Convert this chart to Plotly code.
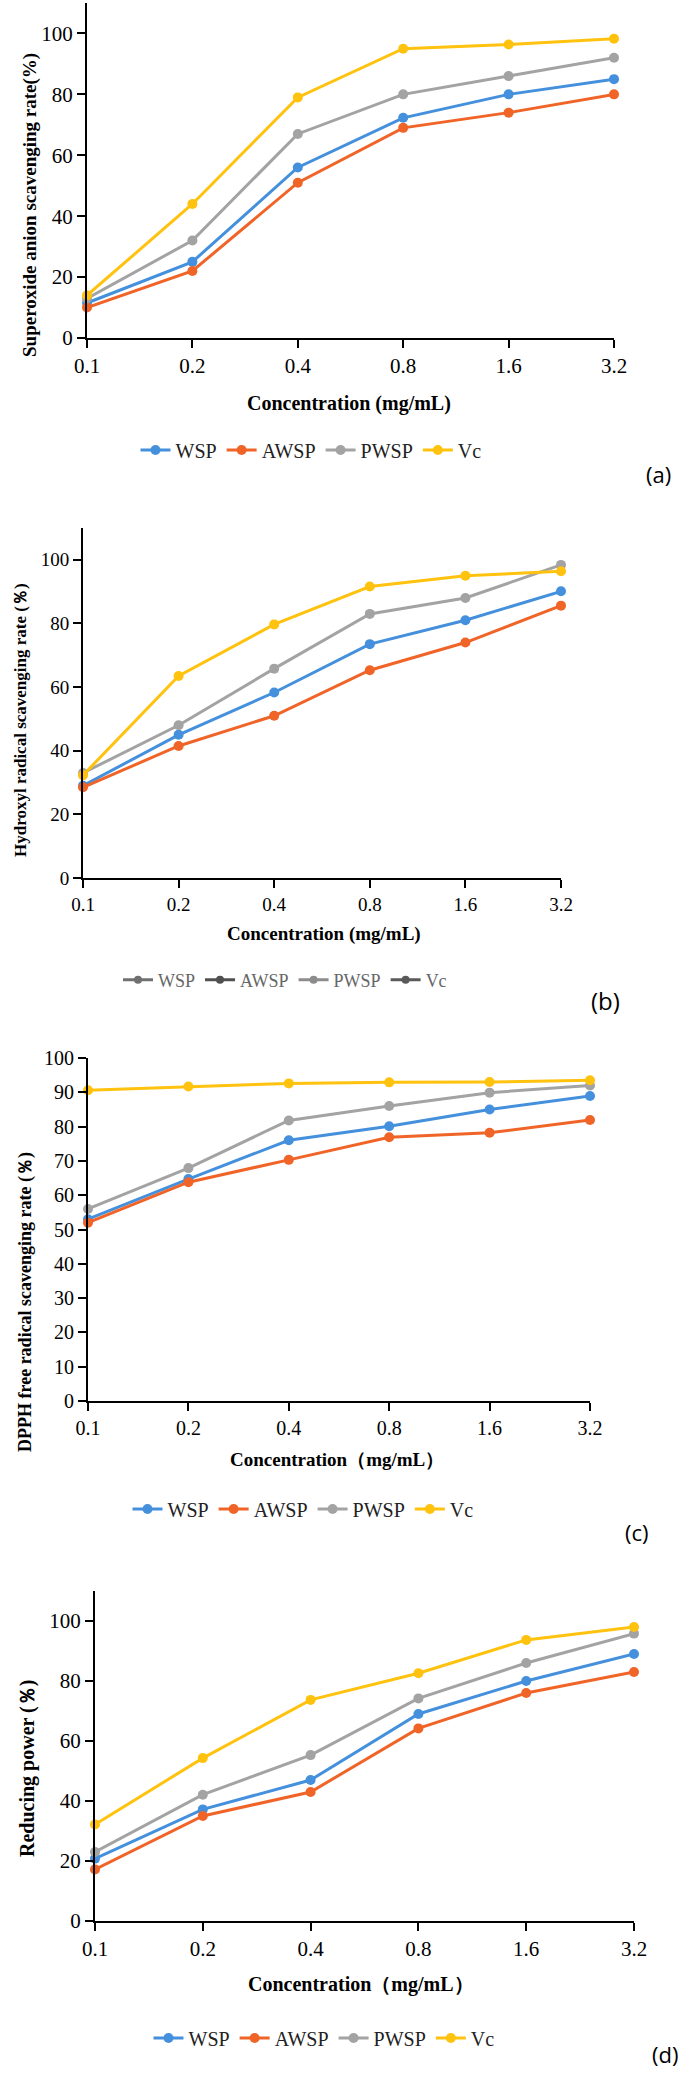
import plotly.graph_objects as go

W, H = 685, 2075

concentrations = ["0.1", "0.2", "0.4", "0.8", "1.6", "3.2"]
series_names = ["WSP", "AWSP", "PWSP", "Vc"]

# (a) Superoxide anion scavenging rate (%)
a_wsp = [11.5, 25, 56, 72.3, 80, 85]
a_awsp = [10, 22, 51, 69, 74, 80]
a_pwsp = [13, 32, 67, 80, 86, 92]
a_vc = [14, 44, 79, 95, 96.4, 98.3]

# (b) Hydroxyl radical scavenging rate (%)
b_wsp = [29, 45, 58.3, 73.5, 81, 90.1]
b_awsp = [28.5, 41.5, 51, 65.3, 74, 85.6]
b_pwsp = [33, 48, 65.8, 83, 88, 98.4]
b_vc = [32.3, 63.5, 79.7, 91.6, 95, 96.4]

# (c) DPPH free radical scavenging rate (%)
c_wsp = [53, 64.7, 76, 80.1, 85, 88.9]
c_awsp = [52, 63.8, 70.3, 76.9, 78.2, 81.9]
c_pwsp = [56, 67.9, 81.8, 86, 89.9, 92]
c_vc = [90.6, 91.7, 92.6, 92.9, 93, 93.5]

# (d) Reducing power (%)
d_wsp = [20.8, 37.2, 47, 69, 80, 89]
d_awsp = [17.2, 35, 43, 64.2, 76, 83]
d_pwsp = [23, 42.1, 55.3, 74.2, 86, 95.8]
d_vc = [32.2, 54.3, 73.7, 82.6, 93.7, 98]

colors = ["#4490dc", "#f06428", "#a3a3a3", "#ffc20e"]
b_legend_colors = ["#707070", "#505050", "#8c8c8c", "#5a5a5a"]

SERIF = "Liberation Serif, Times New Roman, serif"


def px(x):
    return x / W


def py(y):
    return 1 - y / H


panels = [
    dict(key="", data=[a_wsp, a_awsp, a_pwsp, a_vc], x0=87, x1=614, ytop=3, ybot=338,
         yr=[0, 110], yt=list(range(0, 101, 20)), tick=21, legend="legend"),
    dict(key="2", data=[b_wsp, b_awsp, b_pwsp, b_vc], x0=83, x1=561, ytop=528, ybot=878,
         yr=[0, 110], yt=list(range(0, 101, 20)), tick=19, legend="legend2"),
    dict(key="3", data=[c_wsp, c_awsp, c_pwsp, c_vc], x0=88, x1=590, ytop=1058, ybot=1401,
         yr=[0, 100], yt=list(range(0, 101, 10)), tick=20, legend="legend3"),
    dict(key="4", data=[d_wsp, d_awsp, d_pwsp, d_vc], x0=95, x1=634, ytop=1591, ybot=1921,
         yr=[0, 110], yt=list(range(0, 101, 20)), tick=21, legend="legend4"),
]

fig = go.Figure()
layout = {}

for i, p in enumerate(panels):
    k = p["key"]
    xa = "x" + k
    ya = "y" + k
    for j, name in enumerate(series_names):
        fig.add_trace(go.Scatter(
            x=concentrations, y=p["data"][j], name=name, mode="lines+markers",
            line=dict(color=colors[j], width=3),
            marker=dict(color=colors[j], size=10),
            xaxis=xa, yaxis=ya, cliponaxis=False,
            legend=p["legend"], showlegend=(i != 1),
        ))
    if i == 1:
        for j, name in enumerate(series_names):
            fig.add_trace(go.Scatter(
                x=[None], y=[None], name=name, mode="lines+markers",
                line=dict(color=b_legend_colors[j], width=3),
                marker=dict(color=b_legend_colors[j], size=8),
                xaxis=xa, yaxis=ya, legend="legend2", showlegend=True,
            ))
    common = dict(showline=True, linecolor="black", linewidth=2, ticks="outside",
                  ticklen=8, tickwidth=2, tickcolor="black", showgrid=False,
                  zeroline=False, automargin=False,
                  tickfont=dict(family=SERIF, size=p["tick"], color="black"))
    layout["xaxis" + k] = dict(domain=[px(p["x0"]), px(p["x1"])], anchor=ya,
                               type="category", categoryorder="array",
                               categoryarray=concentrations, range=[0, 5], **common)
    layout["yaxis" + k] = dict(domain=[py(p["ybot"]), py(p["ytop"])], anchor=xa,
                               range=p["yr"], tickvals=p["yt"], **common)

fig.update_layout(**layout)

legend_common = dict(orientation="h", xanchor="center", yanchor="middle",
                     bgcolor="rgba(0,0,0,0)", itemwidth=30, tracegroupgap=0)
fig.update_layout(
    legend=dict(x=px(311), y=py(450), font=dict(family=SERIF, size=20, color="#222"), **legend_common),
    legend2=dict(x=px(285), y=py(980), font=dict(family=SERIF, size=18, color="#666"), **legend_common),
    legend3=dict(x=px(303), y=py(1509), font=dict(family=SERIF, size=20, color="#222"), **legend_common),
    legend4=dict(x=px(324), y=py(2038), font=dict(family=SERIF, size=20, color="#222"), **legend_common),
)

annotations = []


def ann(text, x, y, size, angle=0, bold=True, family=SERIF, xanchor="center"):
    annotations.append(dict(
        text=("<b>%s</b>" % text) if bold else text, x=px(x), y=py(y), xref="paper", yref="paper",
        showarrow=False, textangle=angle, xanchor=xanchor, yanchor="middle",
        font=dict(family=family, size=size, color="black"),
    ))


# y-axis titles
ann("Superoxide anion scavenging rate(%)", 30, 205, 19, -90)
ann("Hydroxyl radical scavenging rate (％)", 20, 720, 17, -90)
ann("DPPH free radical scavenging rate (％)", 25, 1302, 18, -90)
ann("Reducing power (％)", 27, 1769, 20, -90)
# x-axis titles
ann("Concentration (mg/mL)", 349, 404, 20)
ann("Concentration (mg/mL)", 324, 934, 19)
ann("Concentration（mg/mL）", 337, 1459, 19)
ann("Concentration（mg/mL）", 361, 1984, 20)
# panel labels
SANS = "Open Sans, Noto Sans, sans-serif"
ann("(a)", 658, 474, 22, bold=False, family=SANS)
ann("(b)", 605, 1000, 24, bold=False, family=SANS)
ann("(c)", 637, 1532, 22, bold=False, family=SANS)
ann("(d)", 680, 2054, 22, bold=False, family=SANS, xanchor="right")

fig.update_layout(
    width=W, height=H, margin=dict(l=0, r=0, t=0, b=0, autoexpand=False),
    paper_bgcolor="white", plot_bgcolor="white",
    annotations=annotations,
)

fig.write_html("out.html", config={"displayModeBar": False},
               post_script="document.body.style.margin='0';")
